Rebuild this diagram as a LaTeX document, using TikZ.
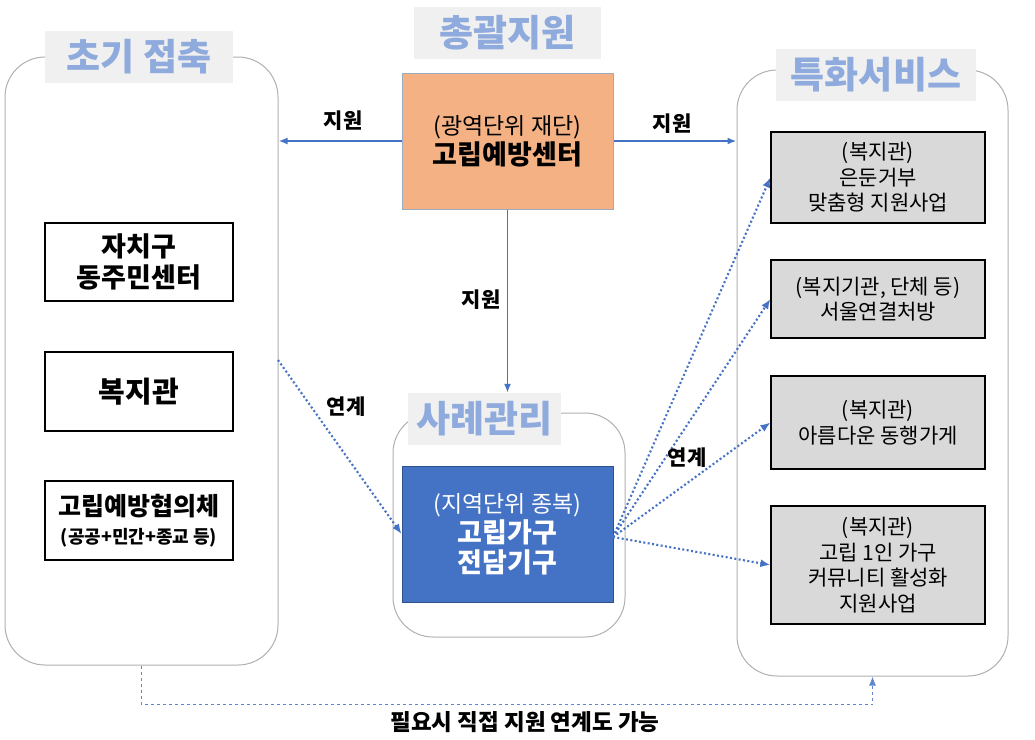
\documentclass[tikz,border=0pt]{standalone}
\usepackage{fontspec}
\setmainfont{Noto Sans CJK KR}
\usetikzlibrary{arrows.meta,positioning}
\definecolor{headbg}{HTML}{F0F0F0}
\definecolor{headfg}{HTML}{8FAADC}
\definecolor{hubblue}{HTML}{4472C4}
\definecolor{hubedge}{HTML}{2F528F}
\definecolor{centerorange}{HTML}{F4B183}
\definecolor{centeredge}{HTML}{9DA9BC}
\definecolor{svcgray}{HTML}{D9D9D9}
\definecolor{panelline}{HTML}{B0B0B0}
\tikzset{
  panel/.style={draw=panelline, line width=1pt, rounded corners=40pt, fill=white},
  head/.style={fill=headbg, text=headfg, font=\fontsize{37}{40}\selectfont\bfseries, minimum height=52pt, inner sep=0pt},
  unit/.style={line width=1pt, align=center, minimum width=211pt, minimum height=136pt, font=\fontsize{27}{30}\selectfont\bfseries},
  entry/.style={draw=black, line width=1.2pt, fill=white, align=center, minimum width=188pt, font=\bfseries},
  service/.style={draw=black, line width=1.2pt, fill=svcgray, align=center, minimum width=214pt, inner sep=0pt, font=\fontsize{21}{25.5}\selectfont},
  feed/.style={draw=hubblue, line width=1.8pt, -{Latex[length=9pt,width=7pt]}},
  link/.style={draw=hubblue, line width=2.1pt, dash pattern=on 2pt off 2.4pt, -{Latex[length=10pt,width=8pt]}},
  tag/.style={font=\fontsize{21}{24}\selectfont\bfseries},
}
\newcommand\unitline[1]{{\fontsize{23}{27}\selectfont\mdseries #1}}

\begin{document}
\begin{tikzpicture}[x=1pt, y=-1pt]
		%%%%% START %%%%%
		\useasboundingbox (0,0) rectangle (1035,739);
		
		% three groups
		\node[panel, minimum width=273pt, minimum height=608pt] (early) at (141.5,361) {};
		\node[panel, minimum width=232pt, minimum height=224pt] (casebox) at (509,525) {};
		\node[panel, minimum width=271pt, minimum height=606pt] (special) at (872.5,373) {};
		
		\node[head, minimum width=188pt] (earlyhead) at (139,57) {초기 접축};
		\node[head, minimum width=187pt] (tophead) at (507.5,32.5) {총괄지원};
		\node[head, minimum width=153pt] (casehead) at (484.5,419) {사례관리};
		\node[head, minimum width=200pt] (specialhead) at (876,75) {특화서비스};
		
		% centre and hub
		\node[unit, draw=centeredge, fill=centerorange] (center) at (507.5,141) {\unitline{(광역단위 재단)}\\고립예방센터};
		\node[unit, draw=hubedge, fill=hubblue, text=white] (hub) at (507.5,534) {\unitline{(지역단위 종복)}\\고립가구\\전담기구};
		
		% first contact
		\node[entry, minimum height=78pt, font=\fontsize{27}{31}\selectfont\bfseries] (ward) at (139,262) {자치구\\동주민센터};
		\node[entry, minimum height=79pt, font=\fontsize{29}{31}\selectfont\bfseries] (welfare) at (139,391.5) {복지관};
		\node[entry, minimum height=79pt, font=\fontsize{25}{28}\selectfont\bfseries] (council) at (139,520.5) {고립예방협의체\\{\fontsize{18}{20}\selectfont (공공+민간+종교 등)}};
		
		% services
		\node[service, minimum height=91pt] (svcA) at (878,177.5) {(복지관)\\은둔거부\\맞춤형 지원사업};
		\node[service, minimum height=78pt] (svcB) at (878,299) {(복지기관, 단체 등)\\서울연결처방};
		\node[service, minimum height=93pt] (svcC) at (878,422.5) {(복지관)\\아름다운 동행가게};
		\node[service, minimum height=118pt] (svcD) at (878,565) {(복지관)\\고립 1인 가구\\커뮤니티 활성화\\지원사업};
		
		% support
		\draw[feed] (center.west) -- (center.west -| early.east);
		\draw[feed] (center.east) -- (center.east -| special.west);
		\draw[feed] (center.south) -- (center.south |- casehead.north);
		\node[tag] (supL) at (343,121) {지원};
		\node[tag] (supR) at (672,124) {지원};
		\node[tag] (supD) at (481,300) {지원};
		
		% links
		\coordinate (leftout) at (278,360);
		\coordinate (hubout) at (613,537);
		\draw[link] (leftout) -- (hub.west);
		\draw[link] (hubout) -- (svcA.west);
		\draw[link] (hubout) -- (svcB.west);
		\draw[link] (hubout) -- (svcC.west);
		\draw[link] (hubout) -- (svcD.west);
		\node[tag] (linkL) at (346,407) {연계};
		\node[tag] (linkR) at (687,458) {연계};
		
		\draw[draw=hubblue!85, line width=1.1pt, dashed, -{Latex[length=9pt,width=7pt]}] (early.south) -- ++(0,39) -| (special.south);
		\node[font=\fontsize{22.5}{25}\selectfont\bfseries] (note) at (525,722) {필요시 직접 지원 연계도 가능};
		
		%%%%% END %%%%%
	\end{tikzpicture}
\end{document}
